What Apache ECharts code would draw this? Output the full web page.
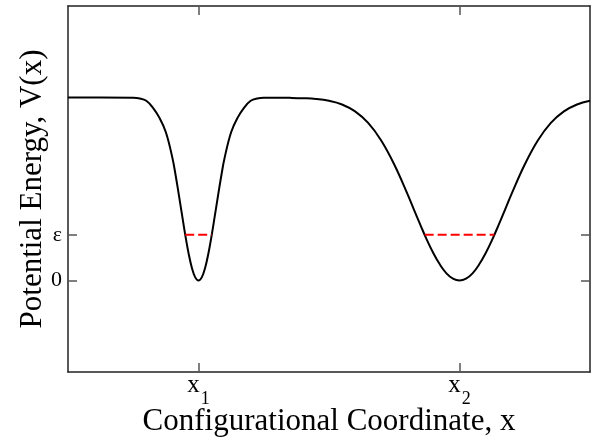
<!DOCTYPE html>
<html>
<head>
<meta charset="utf-8">
<script src="https://cdn.jsdelivr.net/npm/echarts@6/dist/echarts.min.js"></script>
<style>
  html, body { margin: 0; padding: 0; background: #fff; }
  #chart { width: 593px; height: 440px; }
</style>
</head>
<body>
<div id="chart"></div>
<script>
// configurational coordinate (x1 = 1, x2 = 3) and potential
var coordX = [0, 0.25, 0.5, 0.55, 0.6, 0.65, 0.7, 0.75,
  0.8, 0.825, 0.85, 0.875, 0.9, 0.925, 0.95, 0.975, 1.0,
  1.025, 1.05, 1.075, 1.1, 1.125, 1.15, 1.175, 1.2,
  1.25, 1.3, 1.35, 1.4, 1.45, 1.5, 1.6, 1.7, 1.8, 1.9,
  2.0, 2.1, 2.2, 2.3, 2.4, 2.5, 2.6, 2.65, 2.7, 2.75, 2.8, 2.85, 2.9, 2.95, 3.0,
  3.05, 3.1, 3.15, 3.2, 3.25, 3.3, 3.35, 3.4, 3.5, 3.6, 3.7, 3.8, 3.9, 4.0];
var potentialV = [1, 1, 0.999, 0.995, 0.982, 0.945, 0.89, 0.81,
  0.67, 0.574, 0.465, 0.353, 0.243, 0.145, 0.067, 0.017, 0,
  0.017, 0.067, 0.145, 0.243, 0.353, 0.465, 0.574, 0.67,
  0.81, 0.89, 0.945, 0.982, 0.995, 0.999, 0.999, 0.998, 0.996, 0.992,
  0.982, 0.962, 0.924, 0.861, 0.765, 0.634, 0.475, 0.389, 0.304, 0.222, 0.149, 0.087, 0.039, 0.01, 0,
  0.01, 0.039, 0.087, 0.149, 0.222, 0.304, 0.389, 0.475, 0.634, 0.765, 0.861, 0.924, 0.962, 0.982];

// epsilon level and where it cuts each well
var epsLevel = 0.25;
var well1Eps = [0.898, 1.102];
var well2Eps = [2.733, 3.267];

var xTickVals = [1, 3];
var xTickNames = ['1', '2'];
var yTickVals = [0, 0.25];
var yTickNames = ['0', 'ε'];

var curve = coordX.map(function (x, i) { return [x, potentialV[i]]; });

var chart = echarts.init(document.getElementById('chart'));

var serif = 'Liberation Serif';
var lineStyleFrame = { color: '#222', width: 1.5 };
var tickStyle = { color: '#555', width: 1.5 };

function xAxisCfg(pos, showLabel) {
  return {
    type: 'value', position: pos, min: 0, max: 4,
    axisLine: { show: true, onZero: false, lineStyle: lineStyleFrame },
    axisTick: { show: true, inside: true, length: 9, customValues: xTickVals, lineStyle: tickStyle },
    axisLabel: {
      show: showLabel, customValues: xTickVals, margin: 1,
      formatter: function (v) {
        return '{a|x}{b|' + xTickNames[xTickVals.indexOf(v)] + '}';
      },
      rich: {
        a: { fontFamily: serif, fontSize: 25, color: '#000', verticalAlign: 'bottom', padding: [0, 1, 10, 0] },
        b: { fontFamily: serif, fontSize: 18, color: '#000', verticalAlign: 'bottom' }
      }
    },
    splitLine: { show: false },
    name: showLabel ? 'Configurational Coordinate, x' : '',
    nameLocation: 'middle', nameGap: 34, nameMoveOverlap: false,
    nameTextStyle: { fontFamily: serif, fontSize: 31, color: '#000' }
  };
}

function yAxisCfg(pos, showLabel) {
  return {
    type: 'value', position: pos, min: -0.5, max: 1.5,
    axisLine: { show: true, onZero: false, lineStyle: lineStyleFrame },
    axisTick: { show: true, inside: true, length: 9, customValues: yTickVals, lineStyle: tickStyle },
    axisLabel: {
      show: showLabel, customValues: yTickVals, margin: 6,
      fontFamily: serif, fontSize: 22, color: '#000',
      formatter: function (v) { return yTickNames[yTickVals.indexOf(v)]; }
    },
    splitLine: { show: false },
    name: showLabel ? 'Potential Energy, V(x)' : '',
    nameLocation: 'middle', nameGap: 20, nameMoveOverlap: false,
    nameTextStyle: { fontFamily: serif, fontSize: 31, color: '#000' }
  };
}

var option = {
  backgroundColor: '#fff',
  animation: false,
  grid: { left: 68, right: 3, top: 6, bottom: 68, containLabel: false, outerBoundsMode: 'none' },
  xAxis: [xAxisCfg('bottom', true), xAxisCfg('top', false)],
  yAxis: [yAxisCfg('left', true), yAxisCfg('right', false)],
  series: [
    {
      type: 'line', data: curve, smooth: 0.4, symbol: 'none',
      lineStyle: { color: '#000', width: 2 }
    },
    {
      type: 'line', data: [[well1Eps[0], epsLevel], [well1Eps[1], epsLevel]], symbol: 'none',
      lineStyle: { color: '#ff0000', width: 1.8, type: [9, 4] }
    },
    {
      type: 'line', data: [[well2Eps[0], epsLevel], [well2Eps[1], epsLevel]], symbol: 'none',
      lineStyle: { color: '#ff0000', width: 1.8, type: [9, 4] }
    }
  ]
};

chart.setOption(option);
</script>
</body>
</html>
